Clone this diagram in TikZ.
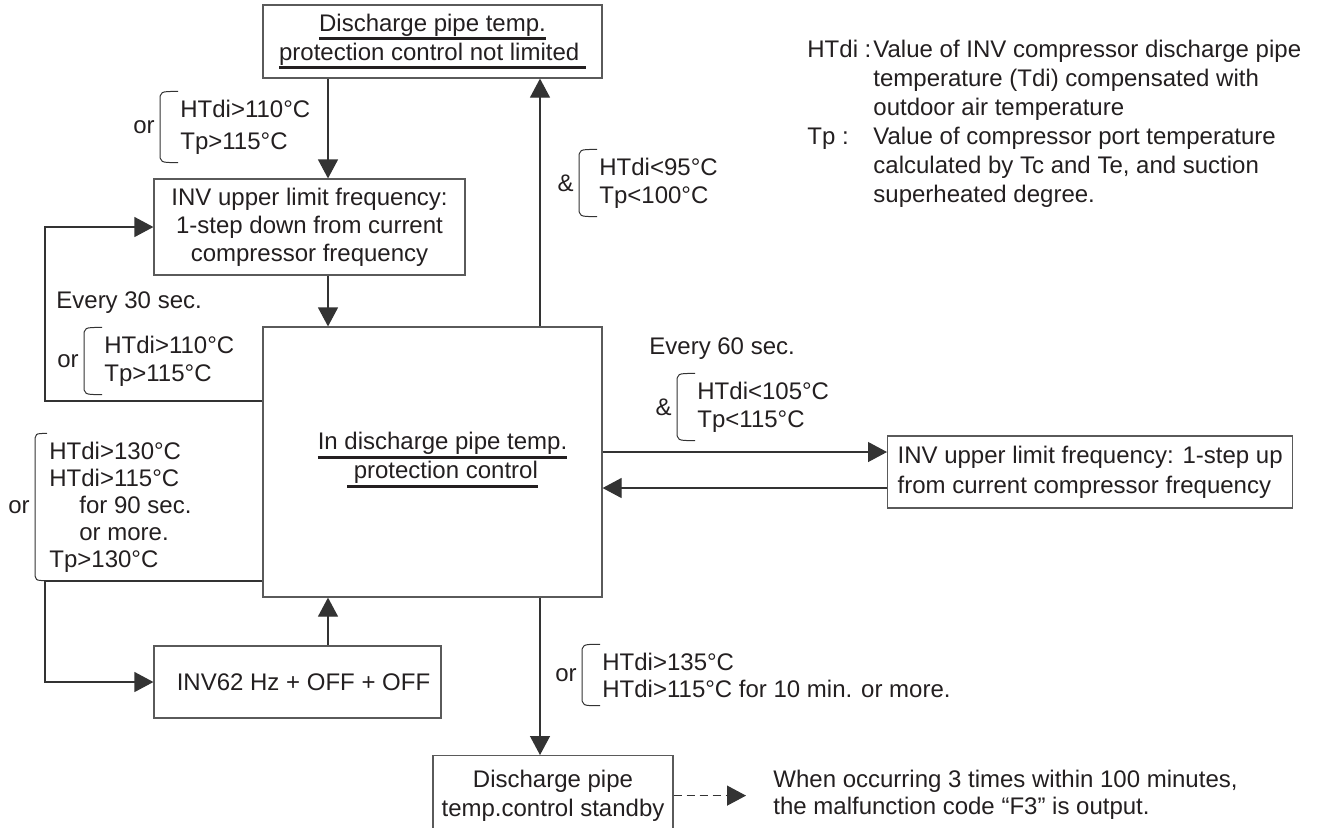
\documentclass[tikz,border=0pt]{standalone}
\usepackage{fontspec}
\setmainfont{Liberation Sans}
\usepackage{xcolor}
\usetikzlibrary{arrows.meta}
\definecolor{inkdark}{HTML}{231F20}
\definecolor{linedark}{HTML}{333333}
\definecolor{boxgray}{HTML}{5A5A5A}

% thick underline as printed in the chart
\newsavebox{\ulbox}
\newcommand{\thickul}[1]{\sbox{\ulbox}{#1}\rlap{\rule[-4.6pt]{\wd\ulbox}{1.6pt}}\usebox{\ulbox}}

% bracket on the left of a condition node, with its operator
\newcommand{\condbrace}[3][10pt]{%
  \draw[brace] ([xshift=-1pt]#2.north west) .. controls ([xshift=-#1]#2.north west) .. ([xshift=-#1,yshift=-5pt]#2.north west)
    -- ([xshift=-#1,yshift=5pt]#2.south west) .. controls ([xshift=-#1]#2.south west) .. ([xshift=-1pt]#2.south west);
  \node[opnote, anchor=east] (#2-op) at ([xshift=-#1-2.5pt]#2.west) {#3};}

\begin{document}
\begin{tikzpicture}[
    x=0.5pt, y=-0.5pt,
    txt/.style={font=\fontsize{12}{14.5}\selectfont, text=inkdark},
    box/.style={txt, draw=boxgray, line width=0.6pt, align=center},
    cond/.style={txt, align=left, anchor=west, inner xsep=0pt, inner ysep=4pt},
    opnote/.style={txt, inner sep=0pt},
    note/.style={txt, inner sep=0pt, anchor=west, align=left},
    brace/.style={draw=linedark, line width=0.5pt},
    arrow/.style={draw=linedark, line width=0.6pt, -{Triangle[length=9.5pt, width=10pt]}},
]
\useasboundingbox (0,0) rectangle (1320,827);

% columns and rows of the connectors
\coordinate (colL) at (328,0);
\coordinate (colR) at (540,0);
\coordinate (railL) at (45,0);
\coordinate (rowA) at (0,401);
\coordinate (rowB) at (0,452);
\coordinate (rowC) at (0,488);
\coordinate (rowD) at (0,581);

% boxes
\node[box, minimum width=169.5pt, minimum height=36.5pt] (notlim) at (432.5,41.5)
  {\thickul{Discharge pipe temp.}\\\thickul{protection control not limited\ }};
\node[box, minimum width=155.5pt, minimum height=48pt, font=\fontsize{12}{14}\selectfont] (downbox) at (309.5,227)
  {INV upper limit frequency:\\1-step down from current\\compressor frequency};
\node[box, minimum width=169.5pt, minimum height=135pt] (ctrl) at (432.5,462) {};
\node[txt, align=center] (ctrltxt) at ([xshift=5pt,yshift=1pt]ctrl.center)
  {\thickul{In discharge pipe temp.}\\\thickul{\ protection control}};
\node[box, minimum width=143.5pt, minimum height=36pt] (inv62) at (297.5,682) {\hspace*{6pt}INV62 Hz + OFF + OFF};
\node[box, align=left, anchor=west, inner xsep=5pt, minimum height=36pt, font=\fontsize{12}{15}\selectfont] (upbox) at (887,472)
  {INV upper limit frequency: 1-step up\\from current compressor frequency};
\node[box, anchor=north, minimum width=120pt, minimum height=40pt] (standby) at (553,755)
  {Discharge pipe\\temp.control standby};

% legend
\node[txt, inner sep=0pt, anchor=base west] (legend) at (807,57.5)
  {\begin{tabular}[t]{@{}p{33pt}@{}l@{}}
   HTdi :&Value of INV compressor discharge pipe\\
   &temperature (Tdi) compensated with\\
   &outdoor air temperature\\
   Tp :&Value of compressor port temperature\\
   &calculated by Tc and Te, and suction\\
   &superheated degree.
   \end{tabular}};

% conditions
\node[cond, font=\fontsize{12}{16}\selectfont] (c110a) at (180,127) {HTdi>110°C\\Tp>115°C};
\node[cond, font=\fontsize{12}{14}\selectfont] (c95) at (599,183) {HTdi<95°C\\Tp<100°C};
\node[note] (every30) at (56,303) {Every 30 sec.};
\node[cond, font=\fontsize{12}{14}\selectfont] (c110b) at (104,361) {HTdi>110°C\\Tp>115°C};
\node[note] (every60) at (649,349) {Every 60 sec.};
\node[cond, font=\fontsize{12}{14}\selectfont] (c105) at (697,407) {HTdi<105°C\\Tp<115°C};
\node[cond, font=\fontsize{12}{13.5}\selectfont] (c130) at (49,507)
  {HTdi>130°C\\HTdi>115°C\\\hspace*{15pt}for 90 sec.\\\hspace*{15pt}or more.\\Tp>130°C};
\node[cond, font=\fontsize{12}{13.5}\selectfont] (c135) at (602,675)
  {HTdi>135°C\\HTdi>115°C for 10 min. or more.};
\node[note, font=\fontsize{12}{13.5}\selectfont] (fnote) at (773,795)
  {When occurring 3 times within 100 minutes,\\the malfunction code “F3” is output.};

\condbrace{c110a}{or}
\condbrace{c95}{\&}
\condbrace{c110b}{or}
\condbrace{c105}{\&}
\condbrace[7pt]{c130}{or}
\condbrace{c135}{or}

% connectors
\draw[arrow] (notlim.south -| colL) -- (downbox.north -| colL);
\draw[arrow] (downbox.south -| colL) -- (ctrl.north -| colL);
\draw[arrow] (inv62.north -| colL) -- (ctrl.south -| colL);
\draw[arrow] (ctrl.north -| colR) -- (notlim.south -| colR);
\draw[arrow] (ctrl.south -| colR) -- (standby.north -| colR);
\draw[arrow] (ctrl.east |- rowB) -- (upbox.west |- rowB);
\draw[arrow] (upbox.west |- rowC) -- (ctrl.east |- rowC);
\draw[arrow] (ctrl.west |- rowA) -- (railL |- rowA) |- (downbox.west);
\draw[arrow] (ctrl.west |- rowD) -- (railL |- rowD) |- (inv62.west);
\draw[arrow, dash pattern=on 4pt off 2.5pt, shorten >=13.5pt] (standby.east) -- (standby.east -| fnote.west);

\end{tikzpicture}
\end{document}
